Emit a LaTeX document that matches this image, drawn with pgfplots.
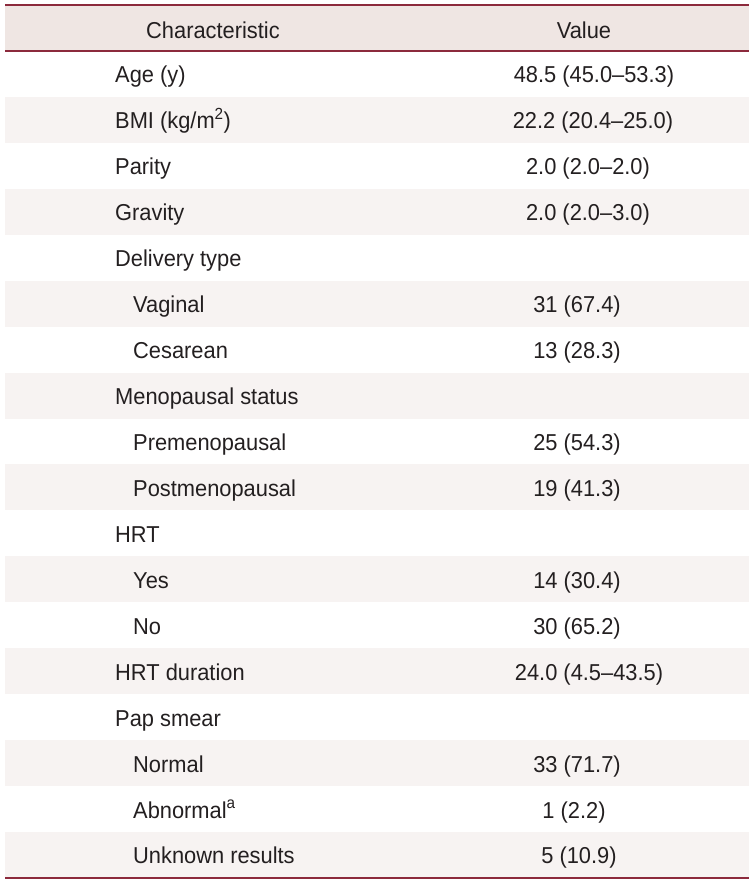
\documentclass[border=0pt]{standalone}
\usepackage{pgfplots}
\pgfplotsset{compat=1.18}
\usepackage{fontspec}
\setmainfont[FakeStretch=0.95]{Liberation Sans}
\definecolor{rulered}{HTML}{8C2A3C}
\definecolor{headfill}{HTML}{EFE6E3}
\definecolor{rowshade}{HTML}{F7F3F2}
\definecolor{txt}{HTML}{231F20}
% #1 row index, #2 shaded (1/0), #3 label x, #4 label, #5 value x, #6 value
\newcommand\trow[6]{%
  \ifnum#2=1
    \fill[rowshade] (axis cs:5,{51+45.94*(#1-1)}) rectangle (axis cs:749,{51+45.94*#1});
  \fi
  \node[anchor=base west] at (axis cs:#3,{51+45.94*(#1-0.5)+9}) {#4};
  \node[anchor=base] at (axis cs:#5,{51+45.94*(#1-0.5)+9}) {#6};
}
\begin{document}
\begin{tikzpicture}[every node/.style={font=\fontsize{23}{27}\selectfont, text=txt, inner sep=0pt}]
\begin{axis}[
  width=755pt, height=887pt, scale only axis,
  xmin=0, xmax=755, ymin=0, ymax=887, y dir=reverse,
  axis lines=none, clip=false]
\path (axis cs:0,0) rectangle (axis cs:755,887);
\fill[headfill] (axis cs:5,5) rectangle (axis cs:749,51);
\node[anchor=base] at (axis cs:213,38) {Characteristic};
\node[anchor=base] at (axis cs:584,38) {Value};
\trow{1}{0}{115}{Age (y)}{594}{48.5 (45.0–53.3)}
\trow{2}{1}{115}{BMI (kg/m\textsuperscript{2})}{593}{22.2 (20.4–25.0)}
\trow{3}{0}{115}{Parity}{588}{2.0 (2.0–2.0)}
\trow{4}{1}{115}{Gravity}{588}{2.0 (2.0–3.0)}
\trow{5}{0}{115}{Delivery type}{588}{}
\trow{6}{1}{133}{Vaginal}{577}{31 (67.4)}
\trow{7}{0}{133}{Cesarean}{577}{13 (28.3)}
\trow{8}{1}{115}{Menopausal status}{577}{}
\trow{9}{0}{133}{Premenopausal}{577}{25 (54.3)}
\trow{10}{1}{133}{Postmenopausal}{577}{19 (41.3)}
\trow{11}{0}{115}{HRT}{577}{}
\trow{12}{1}{133}{Yes}{577}{14 (30.4)}
\trow{13}{0}{133}{No}{577}{30 (65.2)}
\trow{14}{1}{115}{HRT duration}{589}{24.0 (4.5–43.5)}
\trow{15}{0}{115}{Pap smear}{577}{}
\trow{16}{1}{133}{Normal}{577}{33 (71.7)}
\trow{17}{0}{133}{Abnormal\textsuperscript{a}}{574}{1 (2.2)}
\trow{18}{1}{133}{Unknown results}{579}{5 (10.9)}
\draw[rulered, line width=1.8pt] (axis cs:5,5) -- (axis cs:749,5);
\draw[rulered, line width=1.8pt] (axis cs:5,51) -- (axis cs:749,51);
\draw[rulered, line width=1.8pt] (axis cs:5,878) -- (axis cs:749,878);
\end{axis}
\end{tikzpicture}
\end{document}
